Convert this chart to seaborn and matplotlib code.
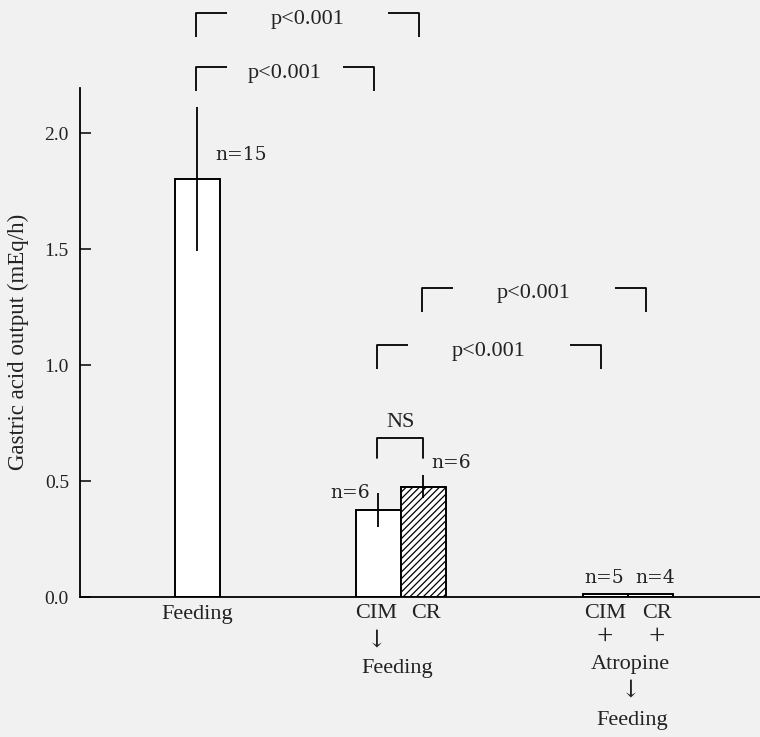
import matplotlib
matplotlib.use("Agg")
import matplotlib.pyplot as plt
import seaborn as sns
import pandas as pd

# ---- data ----
groups = ["Feeding", "CIM→Feeding", "CR→Feeding", "CIM+Atropine→Feeding", "CR+Atropine→Feeding"]
means = [1.80, 0.375, 0.475, 0.012, 0.012]
sems = [0.31, 0.075, 0.05, 0.0, 0.0]
ns = [15, 6, 6, 5, 4]
yticks = [0.0, 0.5, 1.0, 1.5, 2.0]
ylabel = "Gastric acid output (mEq/h)"
# comparisons: (group i, group j, label, bracket level)
comparisons = [(0, 2, "p<0.001", 2.517), (0, 1, "p<0.001", 2.284),
               (2, 4, "p<0.001", 1.332), (1, 3, "p<0.001", 1.086)]
ns_pair = (1, 2, "NS", 0.685)

# layout (positions on x scale)
xpos = [197, 378, 423, 605, 650]

sns.set_theme(style="white")
plt.rcParams["font.family"] = ["Liberation Serif", "DejaVu Serif"]
plt.rcParams["hatch.linewidth"] = 0.9
bg = "#f1f1f1"
fig = plt.figure(figsize=(7.6, 7.37), dpi=100, facecolor=bg)
ax = fig.add_axes([80 / 760, 1 - 597 / 737, 680 / 760, (597 - 88) / 737])
ax.set_facecolor(bg)

df = pd.DataFrame({"x": xpos, "y": means, "g": groups})
sns.barplot(data=df, x="x", y="y", native_scale=True, width=1.0, color="white",
            saturation=1, edgecolor="black", linewidth=1.4, errorbar=None, ax=ax)
bars = ax.patches
bars[2].set_hatch("/////")

# error bars (vertical lines, no caps)
for x, m, s in zip(xpos, means, sems):
    if s > 0:
        ax.vlines(x, m - s, m + s, color="black", lw=1.3, zorder=5)

tc = "#222222"
ax.set_xlim(80, 760)
ax.set_ylim(0, (597 - 88) / 232)
ax.set_yticks(yticks)
ax.set_yticklabels([f"{t:.1f}" for t in yticks], fontsize=14)
ax.tick_params(axis="y", direction="in", length=8, width=1.3, pad=8, left=True,
               labelcolor=tc)
ax.tick_params(axis="x", bottom=False, labelbottom=False)
ax.set_xlabel("")
ax.set_ylabel(ylabel, fontsize=16.5, color=tc)
ax.yaxis.set_label_coords((29 - 80) / 680, (597 - 342) / 509)
for sp in ["top", "right"]:
    ax.spines[sp].set_visible(False)
for sp in ["left", "bottom"]:
    ax.spines[sp].set_color("black")
    ax.spines[sp].set_linewidth(1.3)

fs = 16
px = 1 / 232.0  # data units per pixel (y)
nkw = dict(fontsize=13.5, va="center", color=tc, family=["DejaVu Serif"])

# n labels
ax.text(xpos[0] + 18, (597 - 155) * px, f"n={ns[0]}", ha="left", **nkw)
ax.text(xpos[1] - 8, (597 - 493) * px, f"n={ns[1]}", ha="right", **nkw)
ax.text(xpos[2] + 8, (597 - 463) * px, f"n={ns[2]}", ha="left", **nkw)
ax.text(xpos[3] - 1, (597 - 578) * px, f"n={ns[3]}", ha="center", **nkw)
ax.text(xpos[4] + 5, (597 - 578) * px, f"n={ns[4]}", ha="center", **nkw)

# brackets
drop = 24 * px
seg = 31
for i, j, lab, lev in comparisons:
    x1, x2 = xpos[i] - 1, xpos[j] - 4
    kw = dict(color="black", lw=1.3, clip_on=False, solid_capstyle="butt")
    ax.plot([x1, x1, x1 + seg], [lev - drop, lev, lev], **kw)
    ax.plot([x2 - seg, x2, x2], [lev, lev, lev - drop], **kw)
    ax.text((x1 + x2) / 2, lev - 6 * px, lab, fontsize=fs, ha="center", va="center",
            clip_on=False, color=tc)
i, j, lab, lev = ns_pair
ax.plot([xpos[i] - 1, xpos[i] - 1, xpos[j], xpos[j]],
        [lev - 20 * px, lev, lev, lev - 20 * px], color="black", lw=1.3, clip_on=False)
ax.text((xpos[i] + xpos[j]) / 2, lev + 16 * px, lab, fontsize=fs, ha="center", va="center",
        color=tc)

# x-axis group labels
def lbl(x, ypix, s, size=fs, **k):
    ax.text(x, (597 - ypix) * px, s, fontsize=size, ha="center", va="center",
            clip_on=False, color=tc, **k)

lbl(xpos[0], 614, "Feeding")
lbl(xpos[1] - 2, 614, "CIM")
lbl(xpos[2] + 3, 614, "CR")
lbl(xpos[1] - 1, 640, "↓", size=17, family=["DejaVu Serif"])
lbl((xpos[1] + xpos[2]) / 2 - 3, 668, "Feeding")
lbl(xpos[3], 614, "CIM")
lbl(xpos[4] + 7, 614, "CR")
lbl(xpos[3], 637, "+", size=21)
lbl(xpos[4] + 7, 637, "+", size=21)
lbl((xpos[3] + xpos[4]) / 2 + 3, 664, "Atropine")
lbl((xpos[3] + xpos[4]) / 2 + 3, 690, "↓", size=17, family=["DejaVu Serif"])
lbl((xpos[3] + xpos[4]) / 2 + 5, 720, "Feeding")

fig.savefig("out.png", dpi=100, facecolor=bg)
